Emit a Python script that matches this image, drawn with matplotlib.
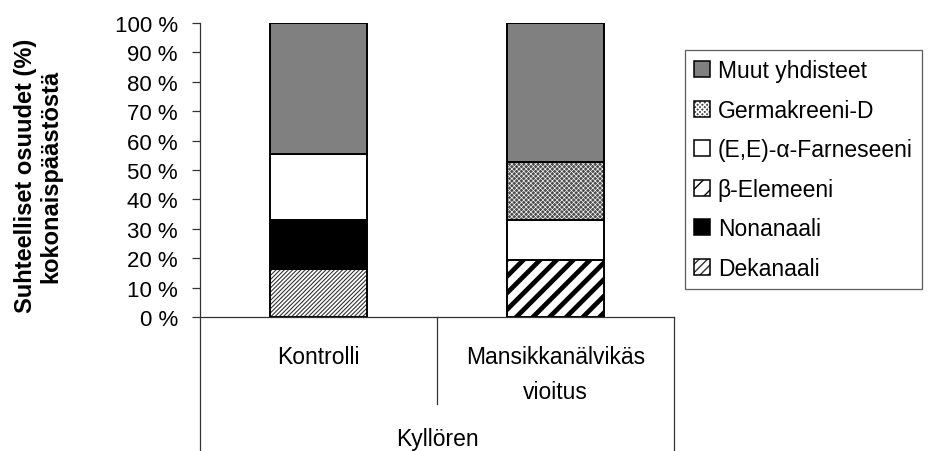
import matplotlib
matplotlib.use('Agg')
import matplotlib.pyplot as plt
from matplotlib.patches import Patch
from matplotlib.lines import Line2D
from matplotlib.transforms import blended_transform_factory

plt.rcParams['font.family'] = ['Liberation Sans', 'DejaVu Sans']

# ---------------- data ----------------
categories = ['Kontrolli', 'Mansikkanälvikäs\nvioitus']
group_label = 'Kyllören'
series_names = ['Dekanaali', 'Nonanaali', 'β-Elemeeni',
                '(E,E)-α-Farneseeni', 'Germakreeni-D', 'Muut yhdisteet']
dekanaali = [16.3, 0.0]
nonanaali = [16.8, 0.0]
beta_elemeeni = [0.0, 19.3]
farneseeni = [22.2, 13.6]
germakreeni = [0.0, 19.7]
muut = [44.7, 47.4]
series_values = [dekanaali, nonanaali, beta_elemeeni, farneseeni, germakreeni, muut]
yticks = [0, 10, 20, 30, 40, 50, 60, 70, 80, 90, 100]
ytick_labels = [f'{v} %' for v in yticks]
ylabel = 'Suhteelliset osuudet (%)\nkokonaispäästöstä'

# ---------------- styles ----------------
styles = [
    dict(face='white', hatch='////////', hcolor='#333333', hlw=0.8, leg_hatch='////', leg_hlw=0.8),  # Dekanaali
    dict(face='black', hatch=None, hcolor='black', hlw=1.0, leg_hatch=None, leg_hlw=1.0),           # Nonanaali
    dict(face='white', hatch='//', hcolor='black', hlw=3.4, leg_hatch='//', leg_hlw=4.0),           # beta-Elemeeni
    dict(face='white', hatch=None, hcolor='black', hlw=1.0, leg_hatch=None, leg_hlw=1.0),           # Farneseeni
    dict(face='#4c4c4c', hatch='xxxxxxx', hcolor='white', hlw=0.45, leg_hatch='xxxxxxx', leg_hlw=0.45),  # Germakreeni-D
    dict(face='#808080', hatch=None, hcolor='black', hlw=1.0, leg_hatch=None, leg_hlw=1.0),         # Muut
]

W, H = 931, 452
fig = plt.figure(figsize=(W / 100, H / 100), dpi=100)
ax_l, ax_r, ax_t, ax_b = 200, 674, 24, 318
ax = fig.add_axes([ax_l / W, 1 - ax_b / H, (ax_r - ax_l) / W, (ax_b - ax_t) / H])

x = list(range(len(categories)))
bw = 0.41
edge_lw = 1.4


def set_hlw(p, lw):
    if hasattr(p, 'set_hatch_linewidth'):
        p.set_hatch_linewidth(lw)


bottom = [0.0] * len(categories)
for vals, st in zip(series_values, styles):
    if st['hatch']:
        with plt.rc_context({'hatch.linewidth': st['hlw']}):
            bars = ax.bar(x, vals, bw, bottom=bottom, color=st['face'],
                          edgecolor=st['hcolor'], hatch=st['hatch'], linewidth=0)
        for b in bars:
            set_hlw(b, st['hlw'])
    else:
        ax.bar(x, vals, bw, bottom=bottom, color=st['face'], linewidth=0)
    ax.bar(x, vals, bw, bottom=bottom, fill=False, edgecolor='black',
           linewidth=edge_lw)
    bottom = [b + v for b, v in zip(bottom, vals)]

ax.set_xlim(-0.5, len(categories) - 0.5)
ax.set_ylim(0, 100)
ax.set_yticks(yticks)
ax.set_yticklabels(ytick_labels, fontsize=16)
ax.tick_params(axis='y', direction='out', length=6, width=0.9, pad=10, color='#333333')
ax.set_xticks([])
for s in ['top', 'right', 'left']:
    ax.spines[s].set_visible(False)
ax.spines['bottom'].set_color('#333333')
ax.spines['bottom'].set_linewidth(0.9)

# axis / category separator lines
line_kw = dict(color='#333333', linewidth=0.9, transform=fig.transFigure)
fig.add_artist(Line2D([ax_l / W, ax_l / W], [1 - ax_t / H, 0], **line_kw))
fig.add_artist(Line2D([ax_r / W, ax_r / W], [1 - ax_b / H, 0], **line_kw))
mid = (ax_l + ax_r) / 2 / W
fig.add_artist(Line2D([mid, mid], [1 - ax_b / H, 1 - 405 / H], **line_kw))

# category labels (one text per line)
tr = blended_transform_factory(ax.transData, fig.transFigure)
for xi, lab in zip(x, categories):
    for li, part in enumerate(lab.split('\n')):
        ax.text(xi, 1 - (364 + 35 * li) / H, part, transform=tr, ha='center',
                va='baseline', fontsize=16.5)
fig.text(mid, 1 - 446 / H, group_label, ha='center', va='baseline', fontsize=16.5)

# y label
fig.text(38 / W, 1 - 176 / H, ylabel, rotation=90, ha='center', va='center',
         fontsize=17, fontweight='bold', multialignment='center', linespacing=1.1)

# legend
handles = []
for st in styles:
    hp = Patch(facecolor=st['face'],
               edgecolor=st['hcolor'] if st['leg_hatch'] else st['face'],
               hatch=st['leg_hatch'], linewidth=0)
    if st['leg_hatch']:
        set_hlw(hp, st['leg_hlw'])
    op = Patch(facecolor='none', edgecolor='black', linewidth=1.1)
    handles.append((hp, op))
order = [5, 4, 3, 2, 1, 0]
leg = fig.legend([handles[i] for i in order], [series_names[i] for i in order],
                 loc='upper left', bbox_to_anchor=(685 / W, 1 - 51 / H),
                 bbox_transform=fig.transFigure, fontsize=16.5, frameon=True,
                 fancybox=False, shadow=False, handlelength=0.68, handleheight=0.68,
                 handletextpad=0.35, labelspacing=0.72, borderpad=0.4,
                 borderaxespad=0)
leg.get_frame().set_edgecolor('#333333')
leg.get_frame().set_linewidth(0.9)

fig.savefig('out.png', dpi=100)
